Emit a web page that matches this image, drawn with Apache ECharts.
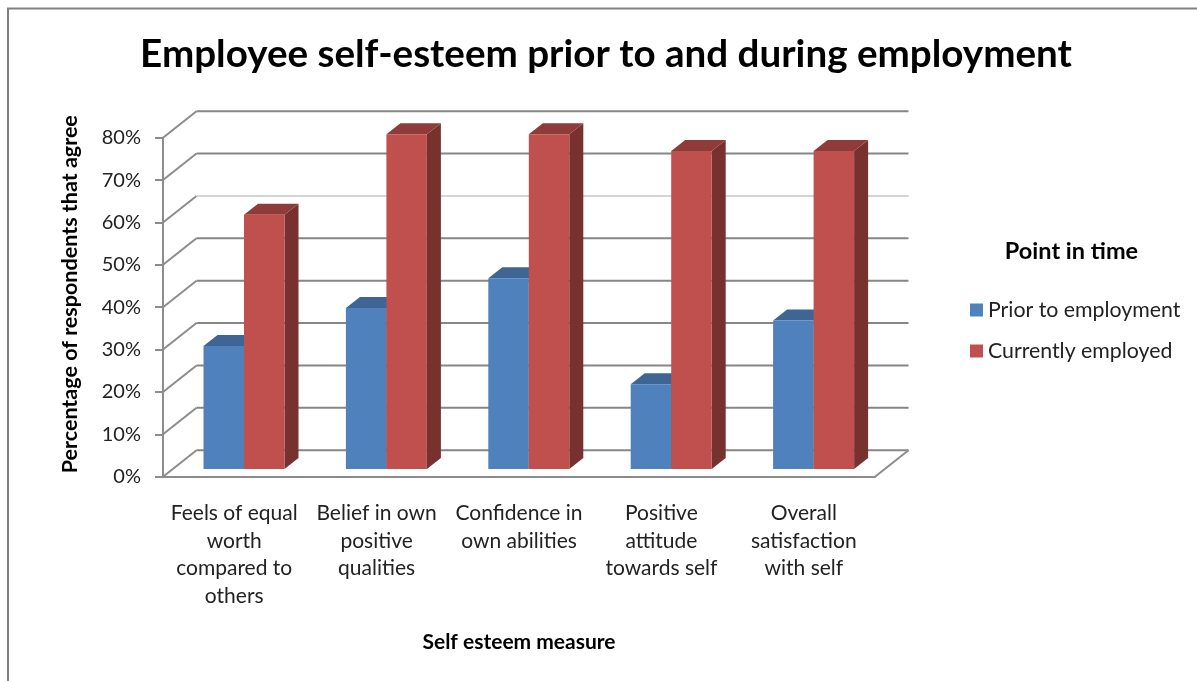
<!DOCTYPE html>
<html>
<head>
<meta charset="utf-8">
<style>html,body{margin:0;padding:0;background:#fff}#c{width:1197px;height:681px}</style>
<script src="https://cdn.jsdelivr.net/npm/echarts@6/dist/echarts.min.js"></script>
</head>
<body>
<div id="c"></div>
<script>
const categories = [
  'Feels of equal\nworth\ncompared to\nothers',
  'Belief in own\npositive\nqualities',
  'Confidence in\nown abilities',
  'Positive\nattitude\ntowards self',
  'Overall\nsatisfaction\nwith self'
];
const priorToEmployment = [29, 38, 45, 20, 35];
const currentlyEmployed = [60, 79, 79, 75, 75];
const gridTicks = [0, 10, 20, 30, 40, 50, 60, 70, 80];

const FONT = 'Lato';
const WALL = { dx: 33.5, dy: -26.5 };
const PLANE = { dx: 9.8, dy: -7.8 };
const DEPTH = { dx: 14, dy: -11 };

function shade(hex, f) {
  const n = parseInt(hex.slice(1), 16);
  const c = [n >> 16, (n >> 8) & 255, n & 255].map(v => Math.round(v * f));
  return 'rgb(' + c.join(',') + ')';
}
function barRenderer(seriesIndex) {
  return function (params, api) {
    const cat = api.value(0);
    const val = api.value(1);
    const top = api.coord([cat, val]);
    const base = api.coord([cat, 0]);
    const w = api.size([1, 0])[0] * 0.2844;
    const color = api.visual('color');
    const x0 = top[0] + PLANE.dx + (seriesIndex === 0 ? -w : 0);
    const x1 = x0 + w;
    const yT = top[1] + PLANE.dy;
    const yB = base[1] + PLANE.dy;
    const poly = (pts, fill) => ({ type: 'polygon', shape: { points: pts }, style: { fill: fill } });
    return {
      type: 'group',
      children: [
        poly([[x1, yT], [x1 + DEPTH.dx, yT + DEPTH.dy], [x1 + DEPTH.dx, yB + DEPTH.dy], [x1, yB]], shade(color, 0.62)),
        poly([[x0, yT], [x0 + DEPTH.dx, yT + DEPTH.dy], [x1 + DEPTH.dx, yT + DEPTH.dy], [x1, yT]], seriesIndex === 0 ? shade(color, 0.78) : shade(color, 0.74)),
        poly([[x0, yT], [x1, yT], [x1, yB], [x0, yB]], color)
      ]
    };
  };
}
function wallRenderer(params, api) {
  const v = api.value(0);
  const cs = params.coordSys;
  const y = api.coord([0, v])[1];
  const xL = cs.x, xR = cs.x + cs.width;
  const line = (pts, col) => ({ type: 'polyline', shape: { points: pts }, style: { fill: 'none', stroke: col, lineWidth: 2 } });
  const back = y + WALL.dy;
  const children = [
    line([[xL, y], [xL + WALL.dx, back]], '#8c8c8c'),
    line([[xL + WALL.dx, back], [xR + WALL.dx, back]], v === 60 ? '#d4d4d4' : '#868686')
  ];
  if (v === 0) children.push(line([[xR, y], [xR + WALL.dx, back]], '#8c8c8c'));
  return { type: 'group', children: children };
}

const chart = echarts.init(document.getElementById('c'), null, { renderer: 'canvas' });
chart.setOption({
  animation: false,
  backgroundColor: '#ffffff',
  textStyle: { fontFamily: FONT },
  title: [
    { text: 'Employee self-esteem prior to and during employment', left: 601, top: 30, textAlign: 'center',
      textStyle: { fontFamily: FONT, fontSize: 38.6, fontWeight: 'bold', color: '#000' } },
    { text: 'Point in time', left: 1066.5, top: 234, textAlign: 'center',
      textStyle: { fontFamily: FONT, fontSize: 23.5, fontWeight: 'bold', color: '#000' } }
  ],
  legend: {
    orient: 'vertical', left: 965, top: 294, itemWidth: 13, itemHeight: 13, itemGap: 19, icon: 'rect',
    data: ['Prior to employment', 'Currently employed'],
    textStyle: { fontFamily: FONT, fontSize: 21.3, color: '#222', padding: [0, 0, 0, 0], height: 22, lineHeight: 22 }
  },
  grid: { left: 163, right: 322, top: 137.7, bottom: 204.3, containLabel: false },
  xAxis: {
    type: 'category', data: categories, boundaryGap: true,
    axisLine: { show: true, lineStyle: { color: '#8c8c8c', width: 2 } },
    axisTick: { show: false },
    axisLabel: { interval: 0, margin: 23, lineHeight: 27.6, fontSize: 21, fontFamily: FONT, color: '#222', align: 'center' },
    name: 'Self esteem measure', nameLocation: 'middle', nameGap: 155,
    nameTextStyle: { fontFamily: FONT, fontSize: 21, fontWeight: 'bold', color: '#000' }
  },
  yAxis: {
    type: 'value', min: 0, max: 80, interval: 10,
    axisLine: { show: true, lineStyle: { color: '#8c8c8c', width: 2 } },
    axisTick: { show: true, length: 8, lineStyle: { color: '#8c8c8c', width: 2 } },
    axisLabel: { formatter: '{value}%', margin: 22, fontSize: 20, fontFamily: FONT, color: '#222' },
    splitLine: { show: false },
    name: 'Percentage of respondents that agree', nameLocation: 'middle', nameGap: 82, nameRotate: 90,
    nameTextStyle: { fontFamily: FONT, fontSize: 21.5, fontWeight: 'bold', color: '#000', padding: [0, 0, 0, 26] }
  },
  graphic: [{
    type: 'polyline', silent: true,
    shape: { points: [[8, 681], [8, 8.5], [1197, 8.5]] },
    style: { fill: 'none', stroke: '#808080', lineWidth: 2 }
  }],
  series: [
    { type: 'custom', name: 'walls', z: 1, silent: true, renderItem: wallRenderer,
      data: gridTicks.map(v => [v]), encode: { y: 0 } },
    { type: 'custom', name: 'Prior to employment', z: 3, color: '#4F81BD', renderItem: barRenderer(0),
      data: priorToEmployment.map((v, i) => [i, v]), encode: { x: 0, y: 1 } },
    { type: 'custom', name: 'Currently employed', z: 4, color: '#C0504D', renderItem: barRenderer(1),
      data: currentlyEmployed.map((v, i) => [i, v]), encode: { x: 0, y: 1 } }
  ]
});
</script>
</body>
</html>
